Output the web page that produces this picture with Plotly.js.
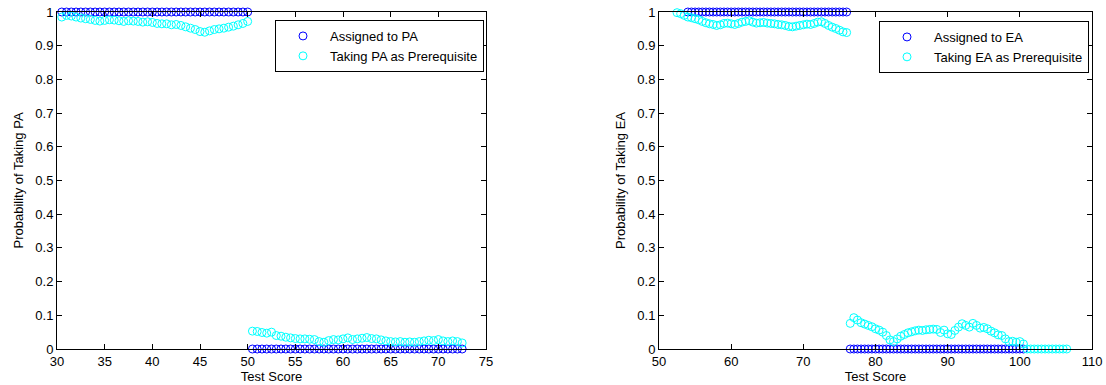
<!DOCTYPE html>
<html>
<head>
<meta charset="utf-8">
<script src="https://cdn.plot.ly/plotly-3.0.1.min.js"></script>
<style>
  html, body { margin: 0; padding: 0; background: #ffffff; }
  #chart { width: 1106px; height: 385px; }
</style>
</head>
<body>
<div id="chart"></div>
<script>
// ---- PA panel: scores below the cutoff (50) ----
const paScoreLow = [30.5, 31, 31.5, 32, 32.5, 33, 33.5, 34, 34.5, 35, 35.5, 36, 36.5, 37, 37.5, 38, 38.5, 39, 39.5, 40,
  40.5, 41, 41.5, 42, 42.5, 43, 43.5, 44, 44.5, 45, 45.5, 46, 46.5, 47, 47.5, 48, 48.5, 49, 49.5, 50];
const paAssignedLow = [1, 1, 1, 1, 1, 1, 1, 1, 1, 1, 1, 1, 1, 1, 1, 1, 1, 1, 1, 1,
  1, 1, 1, 1, 1, 1, 1, 1, 1, 1, 1, 1, 1, 1, 1, 1, 1, 1, 1, 1];
const paTakingLow = [0.985, 0.99, 0.988, 0.985, 0.982, 0.98, 0.978, 0.975, 0.973, 0.975, 0.977, 0.976, 0.974, 0.972, 0.974, 0.973, 0.972, 0.97, 0.971, 0.969,
  0.966, 0.965, 0.965, 0.962, 0.963, 0.96, 0.956, 0.952, 0.948, 0.942, 0.94, 0.944, 0.948, 0.95, 0.952, 0.955, 0.958, 0.962, 0.966, 0.972];

// ---- PA panel: scores above the cutoff ----
const paScoreHigh = [50.5, 51, 51.5, 52, 52.5, 53, 53.5, 54, 54.5, 55, 55.5, 56, 56.5, 57, 57.5, 58, 58.5, 59, 59.5, 60,
  60.5, 61, 61.5, 62, 62.5, 63, 63.5, 64, 64.5, 65, 65.5, 66, 66.5, 67, 67.5, 68, 68.5, 69, 69.5, 70,
  70.5, 71, 71.5, 72, 72.5];
const paAssignedHigh = [0, 0, 0, 0, 0, 0, 0, 0, 0, 0, 0, 0, 0, 0, 0, 0, 0, 0, 0, 0,
  0, 0, 0, 0, 0, 0, 0, 0, 0, 0, 0, 0, 0, 0, 0, 0, 0, 0, 0, 0,
  0, 0, 0, 0, 0];
const paTakingHigh = [0.053, 0.052, 0.049, 0.047, 0.05, 0.04, 0.038, 0.035, 0.033, 0.031, 0.03, 0.03, 0.029, 0.028, 0.022, 0.02, 0.025, 0.028, 0.027, 0.03,
  0.033, 0.028, 0.03, 0.032, 0.034, 0.031, 0.03, 0.027, 0.024, 0.022, 0.021, 0.022, 0.02, 0.021, 0.02, 0.022, 0.024, 0.026, 0.025, 0.028,
  0.024, 0.022, 0.024, 0.022, 0.018];

// ---- EA panel: scores below the cutoff (76) ----
const eaScoreAssignedLow = [54, 54.5, 55, 55.5, 56, 56.5, 57, 57.5, 58, 58.5, 59, 59.5, 60, 60.5, 61, 61.5, 62, 62.5, 63, 63.5,
  64, 64.5, 65, 65.5, 66, 66.5, 67, 67.5, 68, 68.5, 69, 69.5, 70, 70.5, 71, 71.5, 72, 72.5, 73, 73.5,
  74, 74.5, 75, 75.5, 76];
const eaAssignedLow = [1, 1, 1, 1, 1, 1, 1, 1, 1, 1, 1, 1, 1, 1, 1, 1, 1, 1, 1, 1,
  1, 1, 1, 1, 1, 1, 1, 1, 1, 1, 1, 1, 1, 1, 1, 1, 1, 1, 1, 1,
  1, 1, 1, 1, 1];
const eaScoreTakingLow = [52.5, 53, 53.5, 54, 54.5, 55, 55.5, 56, 56.5, 57, 57.5, 58, 58.5, 59, 59.5, 60, 60.5, 61, 61.5, 62,
  62.5, 63, 63.5, 64, 64.5, 65, 65.5, 66, 66.5, 67, 67.5, 68, 68.5, 69, 69.5, 70, 70.5, 71, 71.5, 72,
  72.5, 73, 73.5, 74, 74.5, 75, 75.5, 76];
const eaTakingLow = [0.998, 0.995, 0.99, 0.985, 0.983, 0.98, 0.977, 0.972, 0.968, 0.965, 0.963, 0.96, 0.962, 0.966, 0.967, 0.965, 0.963, 0.966, 0.97, 0.972,
  0.974, 0.97, 0.967, 0.968, 0.969, 0.967, 0.966, 0.965, 0.963, 0.962, 0.96, 0.957, 0.956, 0.958, 0.96, 0.962, 0.964, 0.963, 0.966, 0.97,
  0.971, 0.966, 0.96, 0.955, 0.951, 0.946, 0.941, 0.939];

// ---- EA panel: scores above the cutoff ----
const eaScoreAssignedHigh = [76.5, 77, 77.5, 78, 78.5, 79, 79.5, 80, 80.5, 81, 81.5, 82, 82.5, 83, 83.5, 84, 84.5, 85, 85.5, 86,
  86.5, 87, 87.5, 88, 88.5, 89, 89.5, 90, 90.5, 91, 91.5, 92, 92.5, 93, 93.5, 94, 94.5, 95, 95.5, 96,
  96.5, 97, 97.5, 98, 98.5, 99, 99.5, 100, 100.5];
const eaAssignedHigh = [0, 0, 0, 0, 0, 0, 0, 0, 0, 0, 0, 0, 0, 0, 0, 0, 0, 0, 0, 0,
  0, 0, 0, 0, 0, 0, 0, 0, 0, 0, 0, 0, 0, 0, 0, 0, 0, 0, 0, 0,
  0, 0, 0, 0, 0, 0, 0, 0, 0];
const eaScoreTakingHigh = [76.5, 77, 77.5, 78, 78.5, 79, 79.5, 80, 80.5, 81, 81.5, 82, 82.5, 83, 83.5, 84, 84.5, 85, 85.5, 86,
  86.5, 87, 87.5, 88, 88.5, 89, 89.5, 90, 90.5, 91, 91.5, 92, 92.5, 93, 93.5, 94, 94.5, 95, 95.5, 96,
  96.5, 97, 97.5, 98, 98.5, 99, 99.5, 100, 100.5, 101, 101.5, 102, 102.5, 103, 103.5, 104, 104.5, 105, 105.5, 106,
  106.5];
const eaTakingHigh = [0.076, 0.093, 0.086, 0.078, 0.074, 0.07, 0.066, 0.06, 0.056, 0.05, 0.04, 0.027, 0.022, 0.03, 0.038, 0.043, 0.048, 0.051, 0.054, 0.056,
  0.055, 0.057, 0.058, 0.059, 0.058, 0.049, 0.056, 0.045, 0.043, 0.055, 0.065, 0.075, 0.07, 0.065, 0.076, 0.07, 0.062, 0.064, 0.06, 0.053,
  0.048, 0.042, 0.04, 0.03, 0.022, 0.023, 0.02, 0.022, 0.015, 0, 0, 0, 0, 0, 0, 0, 0, 0, 0, 0,
  0];

const BLUE = 'rgb(0,0,255)';
const CYAN = 'rgb(0,255,255)';
const FONT = 'Liberation Sans, Arial, Helvetica, sans-serif';

function ring(color) {
  return { symbol: 'circle-open', size: 8, color: color, line: { color: color, width: 1 } };
}

function series(x, y, color, name, xa, ya, legend, show) {
  return {
    type: 'scatter', mode: 'markers', x: x, y: y, name: name,
    xaxis: xa, yaxis: ya, legend: legend, showlegend: show,
    legendgroup: legend + name, marker: ring(color), cliponaxis: false,
    hoverinfo: 'x+y'
  };
}

const traces = [
  series(paScoreLow, paAssignedLow, BLUE, 'Assigned to PA', 'x', 'y', 'legend', true),
  series(paScoreHigh, paAssignedHigh, BLUE, 'Assigned to PA', 'x', 'y', 'legend', false),
  series(paScoreLow, paTakingLow, CYAN, 'Taking PA as Prerequisite', 'x', 'y', 'legend', true),
  series(paScoreHigh, paTakingHigh, CYAN, 'Taking PA as Prerequisite', 'x', 'y', 'legend', false),
  series(eaScoreAssignedLow, eaAssignedLow, BLUE, 'Assigned to EA', 'x2', 'y2', 'legend2', true),
  series(eaScoreAssignedHigh, eaAssignedHigh, BLUE, 'Assigned to EA', 'x2', 'y2', 'legend2', false),
  series(eaScoreTakingLow, eaTakingLow, CYAN, 'Taking EA as Prerequisite', 'x2', 'y2', 'legend2', true),
  series(eaScoreTakingHigh, eaTakingHigh, CYAN, 'Taking EA as Prerequisite', 'x2', 'y2', 'legend2', false)
];

const W = 1106, H = 385;
const yDomain = [(H - 349) / H, (H - 12) / H];

function xAxis(domain, range, dtick, anchor) {
  return {
    domain: domain, range: range, dtick: dtick, tick0: 0, anchor: anchor,
    showgrid: false, zeroline: false, showline: true, linecolor: '#000', linewidth: 1,
    mirror: 'ticks', ticks: 'inside', ticklen: 5, tickcolor: '#000',
    tickfont: { family: FONT, size: 13, color: '#000' },
    title: { text: 'Test Score', font: { family: FONT, size: 13, color: '#000' }, standoff: 4 }
  };
}

function yAxis(label, anchor) {
  return {
    domain: yDomain, range: [0, 1], dtick: 0.1, tick0: 0, anchor: anchor,
    showgrid: false, zeroline: false, showline: true, linecolor: '#000', linewidth: 1,
    mirror: 'ticks', ticks: 'inside', ticklen: 5, tickcolor: '#000',
    tickfont: { family: FONT, size: 13, color: '#000' },
    title: { text: label, font: { family: FONT, size: 13, color: '#000' }, standoff: 8 }
  };
}

function legendBox(xRight, yTop) {
  return {
    x: xRight, y: yTop, xref: 'paper', yref: 'paper', xanchor: 'right', yanchor: 'top',
    bgcolor: '#fff', bordercolor: '#000', borderwidth: 1,
    font: { family: FONT, size: 13, color: '#000' },
    itemwidth: 44, tracegroupgap: 0
  };
}

const layout = {
  width: W, height: H,
  margin: { l: 0, r: 0, t: 0, b: 0 },
  paper_bgcolor: '#fff', plot_bgcolor: '#fff',
  showlegend: true,
  xaxis: xAxis([57 / W, 486 / W], [30, 75], 5, 'y'),
  yaxis: yAxis('Probability of Taking PA', 'x'),
  xaxis2: xAxis([659 / W, 1092 / W], [50, 110], 10, 'y2'),
  yaxis2: yAxis('Probability of Taking EA', 'x2'),
  legend: legendBox(484 / W, (H - 20) / H),
  legend2: legendBox(1089 / W, (H - 21) / H)
};

Plotly.newPlot('chart', traces, layout, { displayModeBar: false, staticPlot: true });
</script>
</body>
</html>
